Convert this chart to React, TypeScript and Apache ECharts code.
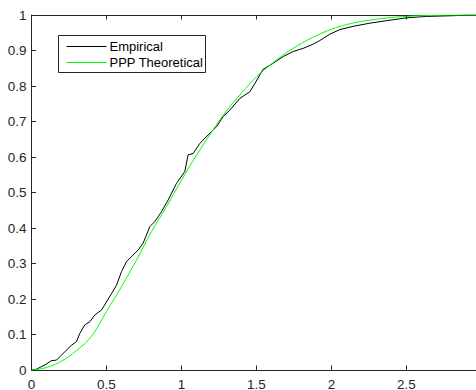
import React, { useEffect, useRef } from "react";
import * as echarts from "echarts";

const empiricalX = [
  0, 0.031, 0.06, 0.089, 0.11, 0.131, 0.167, 0.2, 0.233, 0.267, 0.3, 0.322, 0.355, 0.389,
  0.422, 0.467, 0.5, 0.533, 0.567, 0.6, 0.633, 0.678, 0.711, 0.744, 0.789, 0.822, 0.867,
  0.911, 0.967, 1.022, 1.044, 1.078, 1.122, 1.156, 1.189, 1.233, 1.278, 1.322, 1.389, 1.456,
  1.489, 1.522, 1.544, 1.611, 1.678, 1.744, 1.811, 1.878, 1.922, 1.989, 2.056, 2.144, 2.256,
  2.367, 2.5, 2.633, 2.81, 2.9, 3.0,
];
const empiricalY = [
  0, 0.002, 0.008, 0.014, 0.02, 0.026, 0.028, 0.042, 0.056, 0.07, 0.08, 0.103, 0.127, 0.136,
  0.155, 0.169, 0.192, 0.215, 0.239, 0.277, 0.305, 0.324, 0.338, 0.357, 0.404, 0.418, 0.446,
  0.479, 0.526, 0.559, 0.606, 0.61, 0.638, 0.653, 0.667, 0.685, 0.714, 0.732, 0.765, 0.784,
  0.807, 0.831, 0.847, 0.864, 0.883, 0.897, 0.906, 0.918, 0.928, 0.946, 0.959, 0.968, 0.977,
  0.984, 0.992, 0.996, 0.998, 1.0, 1.0,
];

const theoreticalX = [
  0, 0.1, 0.2, 0.3, 0.4, 0.5, 0.6, 0.7, 0.8, 0.9, 1.0, 1.1, 1.2, 1.3, 1.4, 1.5, 1.6, 1.7,
  1.8, 1.9, 2.0, 2.1, 2.2, 2.3, 2.4, 2.5, 2.6, 2.7, 2.8, 2.9, 3.0,
];
const theoreticalY = [
  0, 0.007, 0.025, 0.055, 0.095, 0.165, 0.235, 0.31, 0.39, 0.46, 0.535, 0.605, 0.67, 0.73,
  0.78, 0.826, 0.862, 0.894, 0.92, 0.942, 0.96, 0.973, 0.982, 0.988, 0.993, 0.996, 0.998,
  0.999, 1.0, 1.0, 1.0,
];

const seriesNames = ["Empirical", "PPP Theoretical"];
const xMin = 0;
const xMax = 3;
const xStep = 0.5;
const yMin = 0;
const yMax = 1;
const yStep = 0.1;

const AXIS = "#262626";
const FONT = "Liberation Sans, Arial, Helvetica, sans-serif";

export default function App() {
  const ref = useRef<HTMLDivElement>(null);
  useEffect(() => {
    if (!ref.current) return;
    const chart = echarts.init(ref.current, null, { renderer: "svg" });
    const empirical = empiricalX.map((x, i) => [x, empiricalY[i]]);
    const theoretical = theoreticalX.map((x, i) => [x, theoreticalY[i]]);
    const axisCommon = {
      type: "value" as const,
      axisLine: { show: true, lineStyle: { color: AXIS, width: 1 } },
      axisTick: { show: true, inside: true, length: 4.5, lineStyle: { color: AXIS, width: 1 } },
      splitLine: { show: false },
    };
    chart.setOption({
      animation: false,
      textStyle: { fontFamily: FONT },
      grid: {
        left: 31.5,
        top: 15,
        width: 450,
        height: 355,
        show: false,
        containLabel: false,
        outerBoundsMode: "none",
      },
      xAxis: [
        {
          ...axisCommon,
          min: xMin,
          max: xMax,
          interval: xStep,
          position: "bottom",
          axisLabel: {
            color: AXIS,
            fontSize: 13.5,
            margin: 7,
            fontFamily: FONT,
            showMaxLabel: false,
          },
        },
        {
          ...axisCommon,
          min: xMin,
          max: xMax,
          interval: xStep,
          position: "top",
          axisLabel: { show: false },
        },
      ],
      yAxis: [
        {
          ...axisCommon,
          min: yMin,
          max: yMax,
          interval: yStep,
          position: "left",
          axisLabel: { color: AXIS, fontSize: 13.5, margin: 5, fontFamily: FONT },
        },
      ],
      series: [
        {
          name: seriesNames[0],
          type: "line",
          data: empirical,
          symbol: "none",
          showSymbol: false,
          lineStyle: { color: "#000000", width: 1 },
        },
        {
          name: seriesNames[1],
          type: "line",
          data: theoretical,
          symbol: "none",
          showSymbol: false,
          smooth: 0.4,
          lineStyle: { color: "#00ff00", width: 1 },
        },
      ],
      graphic: [
        {
          type: "group",
          z: 100,
          children: [
            {
              type: "rect",
              shape: { x: 58.5, y: 35.5, width: 147, height: 37 },
              style: { fill: "#ffffff", stroke: AXIS, lineWidth: 1 },
            },
            {
              type: "line",
              shape: { x1: 66.5, y1: 46.5, x2: 106.5, y2: 46.5 },
              style: { stroke: "#000000", lineWidth: 1 },
            },
            {
              type: "line",
              shape: { x1: 66.5, y1: 62.5, x2: 106.5, y2: 62.5 },
              style: { stroke: "#00ff00", lineWidth: 1 },
            },
            {
              type: "text",
              x: 109.5,
              y: 46.5,
              style: {
                text: seriesNames[0],
                fill: "#000000",
                font: `13px ${FONT}`,
                verticalAlign: "middle",
                align: "left",
              },
            },
            {
              type: "text",
              x: 109.5,
              y: 62.5,
              style: {
                text: seriesNames[1],
                fill: "#000000",
                font: `13px ${FONT}`,
                verticalAlign: "middle",
                align: "left",
              },
            },
          ],
        },
      ],
    });
    return () => chart.dispose();
  }, []);
  return (
    <div
      ref={ref}
      style={{ position: "fixed", left: 0, top: 0, width: 476, height: 390, background: "#ffffff" }}
    />
  );
}
